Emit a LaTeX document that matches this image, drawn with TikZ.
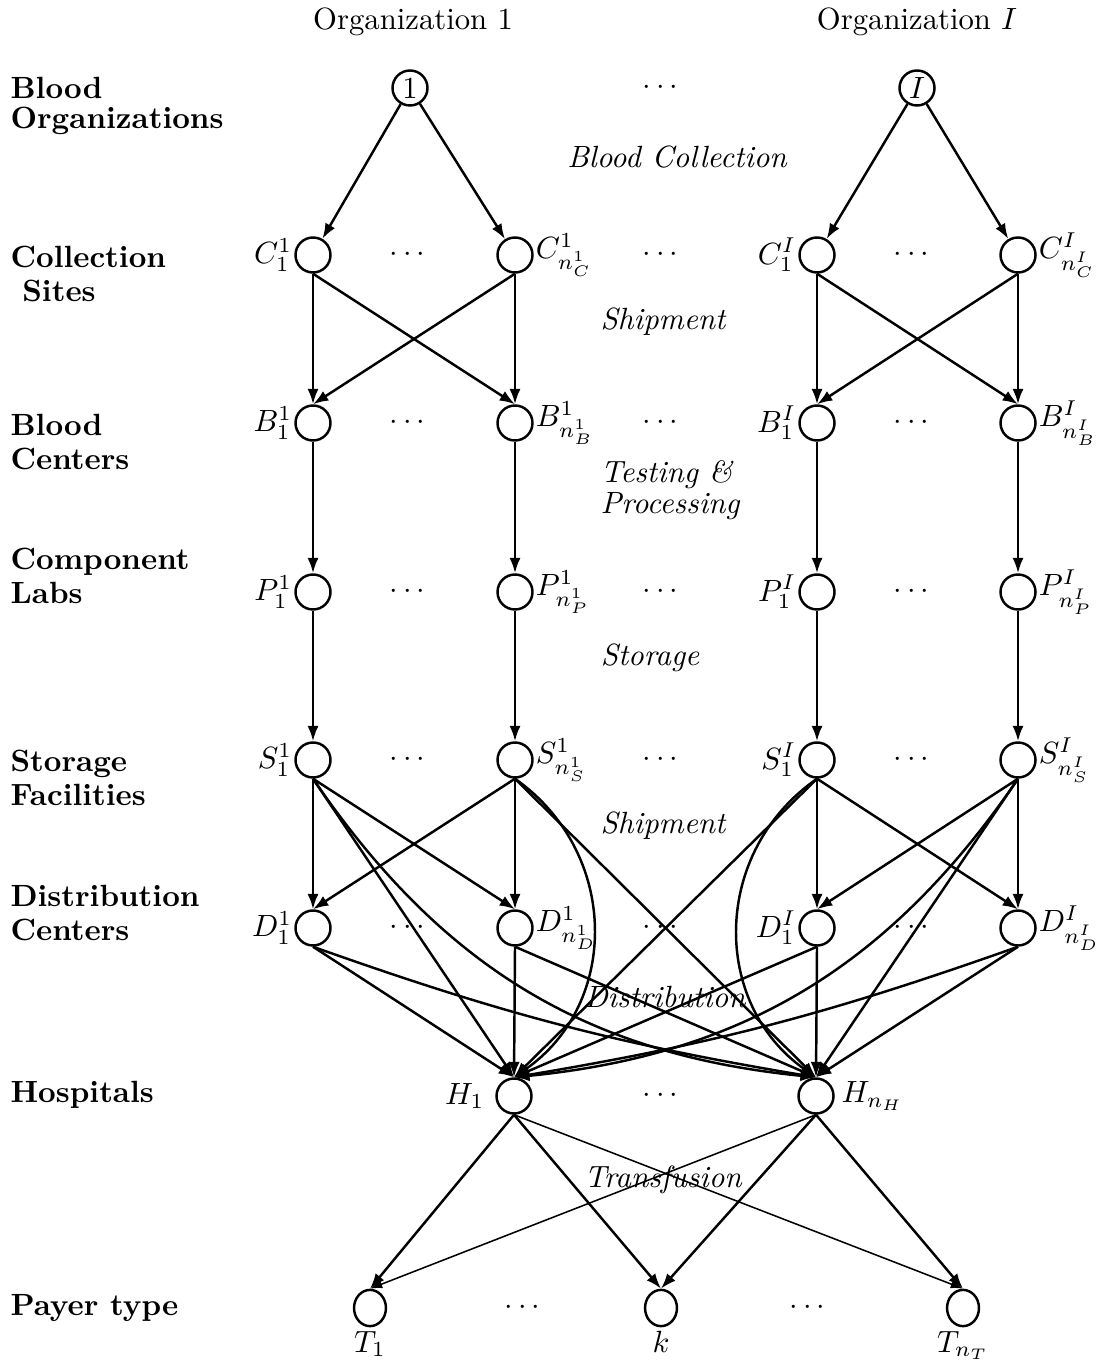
\documentclass[tikz,border=0pt]{standalone}
\usepackage{amsmath,amssymb}
\usepackage{tikz}
\usetikzlibrary{shapes.geometric,arrows.meta}

\begin{document}
\begin{tikzpicture}[x=0.3257pt,y=0.3257pt,
    nd/.style={circle,draw,thick,minimum size=11.4pt,inner sep=0pt},
    tnd/.style={ellipse,draw,thick,minimum width=10.4pt,minimum height=11.8pt,inner sep=0pt},
    arr/.style={thick,-{Latex[length=5pt,width=3.6pt]}},
    arrthin/.style={line width=0.5pt,-{Latex[length=4pt,width=2.8pt]}},
    lvl/.style={font=\bfseries\fontsize{10}{11}\selectfont,align=left,anchor=west,inner sep=0pt},
    act/.style={font=\itshape}]
    \useasboundingbox (0,0) rectangle (1098,-1364);

    % titles and levels
    \node (tOrg1) at (413,-22) {Organization 1};
    \node (tOrgI) at (917,-22) {Organization $I$};
    \node[lvl] (lOrg) at (10,-106) {Blood\\[-1.5pt]Organizations};
    \node[lvl] (lCol) at (10,-274) {Collection\\\ Sites};
    \node[lvl] (lBld) at (10,-442) {Blood\\Centers};
    \node[lvl] (lCmp) at (10,-576) {Component\\Labs};
    \node[lvl] (lSto) at (10,-778) {Storage\\Facilities};
    \node[lvl] (lDis) at (10,-913) {Distribution\\Centers};
    \node[lvl] (lHos) at (10,-1095) {Hospitals};
    \node[lvl] (lPay) at (10,-1308) {Payer type};

    % activities
    \node[act] (aColl) at (677,-157) {Blood Collection};
    \node[act] (aShip) at (663,-322) {Shipment};
    \node[act,align=left,anchor=west,inner sep=0pt,font=\itshape\fontsize{10}{10}\selectfont] (aTest) at (600,-490) {Testing \&\\Processing};
    \node[act] (aStor) at (650,-658) {Storage};
    \node[act] (aShipD) at (663,-826) {Shipment};
    \node[act] (aDist) at (665,-997) {Distribution};
    \node[act] (aTran) at (663,-1180) {Transfusion};

    % organizations
    \node[nd] (o1) at (410,-88) {1};
    \node[nd] (oI) at (917,-88) {$I$};
    \node (odots) at (663,-88) {$\cdots$};

    % rows of facilities
    \foreach \L/\y in {C/255,B/423,P/592,S/760,D/928}{
        \node[nd,label={[inner sep=0.5pt]left:$\L^1_1$}] (\L1) at (313,-\y) {};
        \node[nd,label={[inner sep=0.5pt]right:$\L^1_{n^1_\L}$}] (\L2) at (515,-\y) {};
        \node[nd,label={[inner sep=0.5pt]left:$\L^I_1$}] (\L3) at (817,-\y) {};
        \node[nd,label={[inner sep=0.5pt]right:$\L^I_{n^I_\L}$}] (\L4) at (1018,-\y) {};
        \foreach \x in {410,663,914}
            \node (\L dots\x) at (\x,-\y) {$\cdots$};
    }

    % hospitals and payers
    \node[nd,label={left:$H_1$}] (H1) at (514,-1096) {};
    \node[nd,label={[inner sep=2pt]right:$H_{n_H}$}] (H2) at (816,-1096) {};
    \node (Hdots) at (663,-1096) {$\cdots$};
    \node[tnd,label={[inner sep=1pt]below:$T_1$}] (T1) at (370,-1308) {};
    \node[tnd,label={[inner sep=1pt]below:$k$}] (T2) at (661,-1308) {};
    \node[tnd,label={[inner sep=1pt]below:$T_{n_T}$}] (T3) at (963,-1308) {};
    \node (Tdots1) at (525,-1308) {$\cdots$};
    \node (Tdots2) at (810,-1308) {$\cdots$};

    % collection
    \draw[arr] (o1) -- (C1);
    \draw[arr] (o1) -- (C2);
    \draw[arr] (oI) -- (C3);
    \draw[arr] (oI) -- (C4);

    % shipment to blood centers and to distribution centers
    \foreach \a/\b in {1/2,3/4}{
        \draw[arr] (C\a.south) -- (B\a.north);
        \draw[arr] (C\a.south) -- (B\b.north);
        \draw[arr] (C\b.south) -- (B\a.north);
        \draw[arr] (C\b.south) -- (B\b.north);
        \draw[arr] (S\a.south) -- (D\a.north);
        \draw[arr] (S\a.south) -- (D\b.north);
        \draw[arr] (S\b.south) -- (D\a.north);
        \draw[arr] (S\b.south) -- (D\b.north);
    }

    % processing and storage
    \foreach \c in {1,...,4}{
        \draw[arr] (B\c.south) -- (P\c.north);
        \draw[arr] (P\c.south) -- (S\c.north);
    }

    % storage to hospitals
    \draw[arr] (S1.south) -- (H1.north);
    \draw[arr] (S1.south) to[bend right=25] (H2.north);
    \draw[arr] (S2.south) to[bend left=55,looseness=1.1] (H1.north);
    \draw[arr] (S2.south) -- (H2.north);
    \draw[arr] (S3.south) -- (H1.north);
    \draw[arr] (S3.south) to[bend right=55,looseness=1.1] (H2.north);
    \draw[arr] (S4.south) to[bend left=25] (H1.north);
    \draw[arr] (S4.south) -- (H2.north);

    % distribution
    \draw[arr] (D1.south) -- (H1.north);
    \draw[arr] (D1.south) to[bend right=5] (H2.north);
    \draw[arr] (D2.south) -- (H1.north);
    \draw[arr] (D2.south) -- (H2.north);
    \draw[arr] (D3.south) -- (H1.north);
    \draw[arr] (D3.south) -- (H2.north);
    \draw[arr] (D4.south) to[bend left=5] (H1.north);
    \draw[arr] (D4.south) -- (H2.north);

    % transfusion
    \draw[arr] (H1.south) -- (T1.north);
    \draw[arr] (H1.south) -- (T2.north);
    \draw[arrthin] (H1.south) -- (T3.north);
    \draw[arrthin] (H2.south) -- (T1.north);
    \draw[arr] (H2.south) -- (T2.north);
    \draw[arr] (H2.south) -- (T3.north);
\end{tikzpicture}
\end{document}
